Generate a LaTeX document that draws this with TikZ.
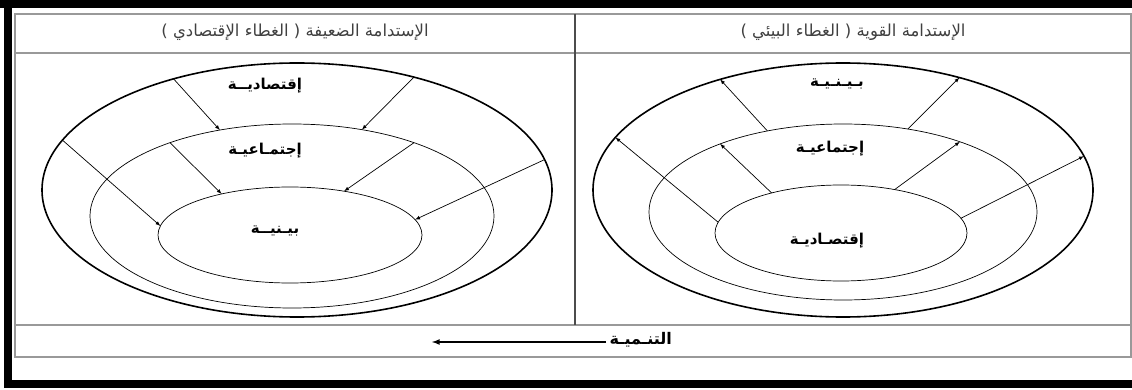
\documentclass[tikz,border=0pt]{standalone}
\usepackage{fontspec}
\usepackage{tikz}
\usetikzlibrary{arrows,shapes.geometric}
\newfontfamily\arabicfont[Script=Arabic]{DejaVu Sans}
\TeXXeTstate=1

\tikzset{
  frame/.style={fill=black},
  rule/.style={draw=black!40, line width=1.2pt},
  ring/.style={ellipse, draw, line width=0.7pt, inner sep=0pt, outer sep=0pt},
  outerring/.style={ring, line width=1.6pt},
  flow/.style={-latex, line width=0.7pt},
  headtxt/.style={font=\arabicfont\fontsize{16.5}{18}\selectfont, text=black!75},
  ringtxt/.style={font=\arabicfont\bfseries\fontsize{15}{17}\selectfont}
}

\begin{document}
\begin{tikzpicture}[x=1pt,y=-1pt]
\useasboundingbox (0,0) rectangle (1132,390);
% black frame
\fill[frame] (0,0) rectangle (1132,8);
\fill[frame] (4,0) rectangle (12,388);
\fill[frame] (4,380) rectangle (1132,388);
% table
\draw[rule] (15,14) rectangle (1131,357);
\draw[rule] (15,53) -- (1131,53);
\draw[rule] (15,325) -- (1131,325);
\draw[draw=black!70, line width=1.2pt] (575,14) -- (575,325);
\node[headtxt] (weak) at (295,32) {\beginR الإستدامة الضعيفة ( الغطاء الإقتصادي )\endR};
\node[headtxt] (strong) at (853,32) {\beginR الإستدامة القوية ( الغطاء البيئي )\endR};

% weak sustainability
\node[outerring, minimum width=510pt, minimum height=254pt] (E1) at (297,190) {};
\node[ring, minimum width=404pt, minimum height=184pt] (E2) at (292,216) {};
\node[ring, minimum width=264pt, minimum height=96pt] (E3) at (290,235) {};
\node[ringtxt] (econL) at (265,86) {\beginR إقتصاديــة\endR};
\node[ringtxt] (socL) at (265,151) {\beginR إجتمـاعيـة\endR};
\node[ringtxt] (envL) at (275,231) {\beginR بيـنيــة\endR};
\draw[flow] (E1.138.8) -- (E2.130.1);
\draw[flow] (E1.44.3) -- (E2.51.9);
\draw[flow] (E2.149.1) -- (E3.149);
\draw[flow] (E2.31) -- (E3.39);
\draw[flow] (E1.168.9) -- (E3.176.5);
\draw[flow] (E1.7.8) -- (E3.7.9);

% strong sustainability
\node[outerring, minimum width=500pt, minimum height=254pt] (F1) at (843,190) {};
\node[ring, minimum width=388pt, minimum height=176pt] (F2) at (843,212) {};
\node[ring, minimum width=252pt, minimum height=96pt] (F3) at (841,233) {};
\node[ringtxt] (envR) at (837,84) {\beginR بـيـنـيـة\endR};
\node[ringtxt] (socR) at (830,149) {\beginR إجتماعيـة\endR};
\node[ringtxt] (econR) at (827,241) {\beginR إقتصـاديـة\endR};
\draw[flow] (F2.133.6) -- (F1.138.1);
\draw[flow] (F2.52.2) -- (F1.44.5);
\draw[flow] (F3.150.5) -- (F2.151.1);
\draw[flow] (F3.39.4) -- (F2.31.6);
\draw[flow] (F3.175.5) -- (F1.167.9);
\draw[flow] (F3.7) -- (F1.8.2);

% development
\node[ringtxt, anchor=west, font=\arabicfont\bfseries\fontsize{16}{18}\selectfont] (dev) at (606,340) {\beginR التنـميـة\endR};
\coordinate (devend) at (432,342);
\draw[-latex, line width=1.6pt] (dev.west |- devend) -- (devend);
\end{tikzpicture}
\end{document}
